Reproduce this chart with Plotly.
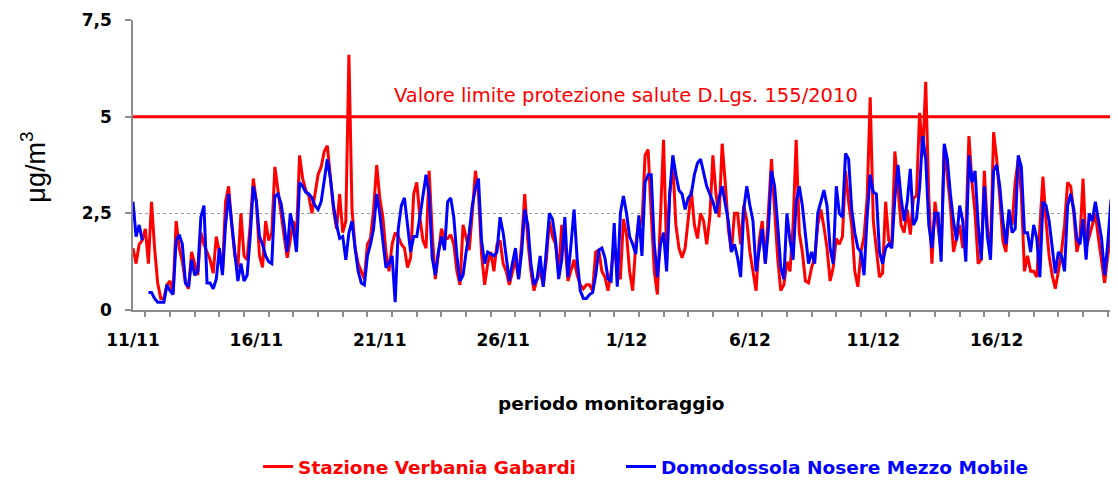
import pandas as pd
import plotly.graph_objects as go

# 3-hourly readings (µg/m3) starting 11/11 00:00
START = "2011-11-11 00:00"
STEP = "3h"

verbania = [
    1.6, 1.2, 1.7, 1.8, 2.1, 1.2, 2.8, 1.6, 0.7, 0.3, 0.3, 0.65, 0.75, 0.45, 2.3, 1.6,
    1.25, 0.7, 0.55, 1.5, 1.2, 0.9, 2.0, 1.7, 1.5, 1.3, 0.95, 1.9, 1.5, 1.0, 2.8, 3.2,
    2.2, 1.4, 1.1, 2.5, 1.4, 1.3, 2.2, 3.4, 2.8, 1.4, 1.1, 2.3, 1.8,
    2.0, 3.7, 3.1, 2.4, 1.9, 1.35, 1.8, 2.3, 1.9, 4.0, 3.4, 3.1, 2.95, 2.5, 3.0, 3.5,
    3.7, 4.1, 4.25, 3.4, 2.6, 2.1, 3.0, 2.0, 2.3, 6.6, 2.6, 1.6, 1.2, 1.0, 0.8, 1.7,
    1.85, 2.6, 3.75, 2.9, 2.4, 1.5, 1.0, 1.7, 2.0, 1.9, 1.7, 1.6, 1.1, 1.35, 3.0, 3.3,
    2.4, 1.8, 1.6, 3.6,
    2.0, 0.8, 1.45, 2.1, 1.85, 1.85, 1.95, 1.7, 1.0, 0.65, 2.2, 1.9, 1.55, 2.5, 3.6, 3.0,
    1.45, 0.65, 1.2, 1.5, 1.0, 1.7, 1.8, 1.2, 1.0, 0.65, 1.0, 1.3, 0.8, 1.75, 3.0, 1.8,
    1.0, 0.5, 0.8, 1.0, 0.65, 1.3, 2.3, 1.9, 1.7, 0.95, 2.2, 1.8, 0.75, 1.0, 1.3, 0.9,
    0.65, 0.55, 0.65, 0.65,
    0.5, 1.5, 1.55, 1.0, 0.85, 0.5, 1.0, 1.7, 1.0, 0.8, 2.35, 1.95, 1.0, 0.5, 1.7, 2.35,
    2.2, 4.0, 4.15, 2.5, 1.0, 0.4, 2.5, 4.4, 1.5, 3.0, 3.8, 2.2, 1.6, 1.35, 1.6, 2.4,
    3.1, 2.2, 1.85, 2.5, 2.3, 1.7, 2.4, 4.0, 3.0, 2.4, 4.3, 3.3, 2.1, 1.5, 2.5, 2.5,
    1.7, 2.7, 2.3, 1.5,
    1.0, 0.5, 1.8, 2.3, 1.2, 2.5, 3.9, 2.6, 1.35, 0.5, 0.65, 1.25, 1.0, 2.2, 4.4, 2.0,
    1.5, 0.75, 0.7, 1.1, 1.35, 2.2, 2.6, 2.15, 1.6, 0.75, 1.1, 1.85, 1.7, 1.9, 3.6, 2.8,
    2.2, 1.0, 0.6, 1.5, 1.9, 2.9, 5.5, 2.3, 1.5, 0.85, 0.95, 2.8, 1.8, 1.7, 4.1, 3.1,
    2.2, 2.0, 2.6, 1.95,
    2.9, 2.95, 5.1, 4.0, 5.9, 2.9, 1.2, 2.8, 2.2, 1.5, 4.2, 3.5, 2.7, 1.5, 1.85, 2.2,
    1.6, 2.0, 4.5, 3.3, 2.5, 1.2, 1.3, 3.6, 2.1, 1.5, 4.6, 3.9, 2.9, 1.8, 1.5, 2.5,
    2.2, 3.3, 3.9, 3.0, 1.0, 1.4, 1.0, 1.0, 0.85, 2.2, 3.45, 2.3, 1.4, 0.9, 0.55, 1.0,
    1.5, 2.2, 3.3, 3.2, 2.5, 1.5, 1.85, 3.4, 1.6, 1.9, 2.2, 2.5, 1.85, 1.2, 0.7, 1.4,
    1.85, 2.3, 3.0,
]

domodossola = [
    2.8, 1.9, 2.2, 1.8, None, 0.45, 0.45, 0.3, 0.2, 0.2, 0.2, 0.65, 0.5, 0.4, 1.8, 1.95,
    1.7, 0.7, 0.6, 1.3, 0.9, 1.0, 2.4, 2.7, 0.7, 0.7, 0.55, 0.8, 1.6, 0.9, 2.2, 3.0,
    2.2, 1.4, 0.75, 1.2, 0.75, 0.9, 1.9, 3.2, 2.8, 1.9, 1.7, 1.4, 1.25,
    1.2, 2.95, 3.0, 2.75, 2.2, 1.5, 2.5, 2.1, 1.5, 3.3, 3.2, 3.05, 3.0, 2.9, 2.7, 2.6,
    2.8, 3.4, 3.9, 3.4, 2.7, 2.2, 1.85, 1.9, 1.3, 2.0, 2.3, 1.6, 1.0, 0.7, 0.65, 1.4,
    1.7, 2.1, 3.0, 2.5, 1.8, 1.1, 1.2, 1.4, 0.2, 2.1, 2.7, 2.9, 2.2, 1.5, 1.9, 1.9,
    2.4, 2.9, 3.5, 3.0,
    1.35, 0.9, 1.5, 1.9, 1.55, 2.8, 2.9, 2.4, 1.4, 0.75, 0.9, 1.5, 2.0, 2.7, 3.15, 3.4,
    1.8, 1.2, 1.5, 1.45, 1.4, 1.5, 2.4, 2.0, 1.3, 0.75, 1.2, 1.6, 0.8, 1.5, 2.6, 2.2,
    1.2, 0.65, 0.8, 1.4, 0.6, 1.5, 2.5, 2.35, 1.8, 0.8, 1.3, 2.4, 0.85, 1.7, 2.6, 1.3,
    0.5, 0.3, 0.3, 0.4,
    0.45, 0.9, 1.55, 1.6, 1.35, 0.8, 0.75, 2.25, 0.6, 2.5, 2.95, 2.5, 1.9, 1.7, 1.45, 2.45,
    1.4, 3.3, 3.5, 3.5, 1.7, 0.85, 1.7, 2.0, 1.0, 3.0, 4.0, 3.5, 3.1, 3.0, 2.6, 2.9,
    3.0, 3.5, 3.8, 3.9, 3.55, 3.2, 3.0, 2.8, 2.5, 2.9, 3.2, 2.8, 2.3, 1.5, 1.7, 1.35,
    0.85, 2.6, 3.2, 2.7,
    2.3, 1.0, 1.5, 2.1, 1.2, 2.1, 3.6, 3.2, 2.2, 1.1, 0.8, 2.5, 1.8, 1.3, 2.8, 3.2,
    2.7, 2.0, 1.2, 1.5, 1.2, 2.5, 2.8, 3.1, 2.7, 1.6, 1.2, 3.2, 2.5, 2.4, 4.05, 3.9,
    2.6, 2.0, 1.6, 1.5, 0.9, 2.4, 3.5, 3.05, 3.0, 1.5, 1.2, 1.6, 1.7, 1.6, 2.9, 3.75,
    2.9, 2.3, 2.8, 3.65,
    2.2, 2.35, 3.15, 4.5, 3.9, 2.2, 1.6, 2.5, 2.5, 1.25, 4.3, 3.9, 3.0, 2.3, 1.8, 2.7,
    2.3, 1.25, 4.0, 3.3, 3.6, 2.2, 1.3, 3.2, 1.9, 1.3, 3.6, 3.75, 3.2, 2.3, 1.7, 2.6,
    2.0, 2.1, 4.0, 3.7, 2.0, 2.0, 1.5, 2.2, 1.85, 0.85, 2.8, 2.7, 2.3, 1.6, 0.95, 1.5,
    1.4, 1.0, 2.7, 3.0, 2.6, 1.85, 1.7, 2.35, 1.3, 2.5, 2.3, 2.8, 2.3, 1.85, 0.9, 1.7,
    2.8, 3.2, 3.8,
]

LIMIT = 5
LIMIT_LABEL = "Valore limite protezione salute D.Lgs. 155/2010"
SERIES_NAMES = ["Stazione Verbania Gabardi", "Domodossola Nosere Mezzo Mobile"]
TICK_DATES = ["2011-11-11", "2011-11-16", "2011-11-21", "2011-11-26",
              "2011-12-01", "2011-12-06", "2011-12-11", "2011-12-16"]
TICK_LABELS = ["11/11", "16/11", "21/11", "26/11", "1/12", "6/12", "11/12", "16/12"]
Y_TICKS = [0, 2.5, 5, 7.5]
Y_LABELS = ["0", "2,5", "5", "7,5"]

times = pd.date_range(START, periods=len(verbania), freq=STEP)

FONT = "DejaVu Sans"
RED = "#FF0000"
BLUE = "#0000FF"
GRAY = "#8C8C8C"

fig = go.Figure()
fig.add_trace(go.Scatter(
    x=times, y=verbania, mode="lines", line=dict(color=RED, width=3),
    name="<b><span style='color:#FF0000'>%s</span></b>" % SERIES_NAMES[0],
    legend="legend",
))
fig.add_trace(go.Scatter(
    x=times[:len(domodossola)], y=domodossola, mode="lines", line=dict(color=BLUE, width=3),
    name="<b><span style='color:#0000FF'>%s</span></b>" % SERIES_NAMES[1],
    legend="legend2",
))

fig.add_hline(y=LIMIT, line=dict(color=RED, width=3), layer="above")

fig.add_annotation(
    text=LIMIT_LABEL, xref="paper", yref="y", x=0.5, y=LIMIT + 0.55,
    xanchor="center", yanchor="middle",
    showarrow=False, font=dict(family=FONT, size=19.5, color=RED),
)
fig.add_annotation(
    text="<b>periodo monitoraggio</b>", xref="paper", yref="paper", x=0.486, y=-0.321,
    xanchor="center", yanchor="middle",
    showarrow=False, font=dict(family=FONT, size=18.5, color="black"),
)
fig.add_annotation(
    text="μg/m<sup>3</sup>", xref="paper", yref="paper", x=-0.1015, y=0.491,
    xanchor="center", yanchor="middle",
    textangle=-90, showarrow=False, font=dict(family="Liberation Sans", size=27, color="black"),
)

legend_common = dict(
    orientation="h", yanchor="middle", y=-0.5427, xanchor="left",
    font=dict(family=FONT, size=18.5), bgcolor="rgba(0,0,0,0)", borderwidth=0,
)

fig.update_layout(
    width=1110, height=478,
    margin=dict(l=125, r=0, t=12, b=173),
    paper_bgcolor="white", plot_bgcolor="white",
    font=dict(family=FONT, color="black"),
    showlegend=True,
    legend=dict(legend_common, x=0.127),
    legend2=dict(legend_common, x=0.4954),
    xaxis=dict(
        range=["2011-11-11 00:00", "2011-12-20 22:00"],
        tickmode="array", tickvals=TICK_DATES, ticktext=["<b>%s</b>" % t for t in TICK_LABELS],
        ticks="outside", ticklen=14, tickcolor="rgba(0,0,0,0)",
        tickfont=dict(family=FONT, size=17, color="black"),
        showgrid=False, showline=True, linecolor=GRAY, linewidth=1.5,
        minor=dict(ticks="outside", ticklen=5, tickcolor=GRAY, tickwidth=1.5,
                   tick0="2011-11-11 12:00", dtick=86400000, showgrid=False),
    ),
    yaxis=dict(
        range=[0, 7.5], tickmode="array", tickvals=Y_TICKS,
        ticktext=["<b>%s</b>" % t for t in Y_LABELS],
        ticks="outside", ticklen=6, tickcolor=GRAY, tickwidth=1.5,
        tickfont=dict(family=FONT, size=17, color="black"),
        ticklabelstandoff=10,
        showgrid=True, gridcolor="#999999", griddash="dot", gridwidth=1,
        showline=True, linecolor=GRAY, linewidth=1.5, zeroline=False,
    ),
)

fig.write_html("out.html")
